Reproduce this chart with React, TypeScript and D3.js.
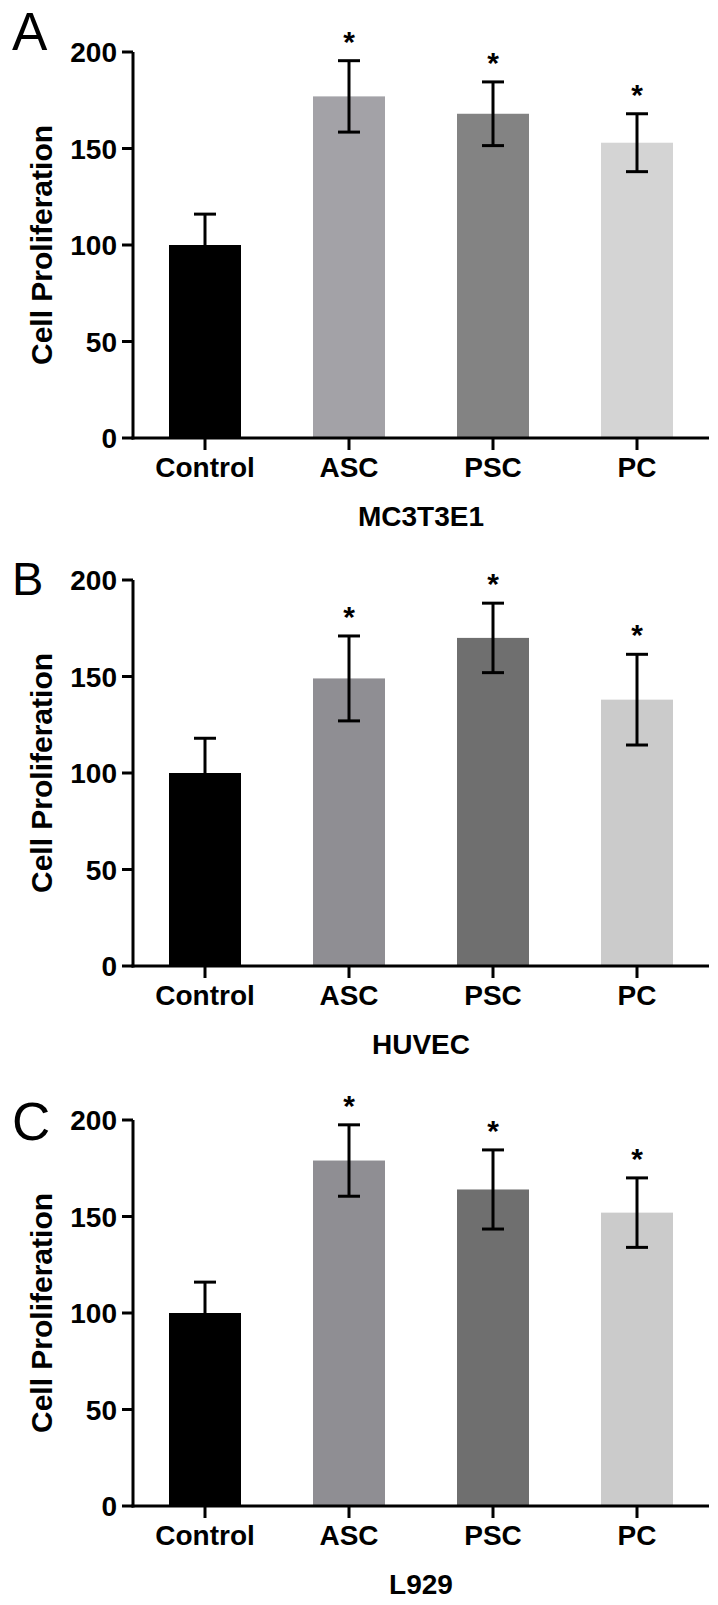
import React from "react";
import * as d3 from "d3";

const categories = ["Control", "ASC", "PSC", "PC"];
const yTicks = [0, 50, 100, 150, 200];

const panelLetters = ["A", "B", "C"];
const panelTitles = ["MC3T3E1", "HUVEC", "L929"];

const meansA = [100, 177, 168, 153];
const errA = [16, 18.5, 16.5, 15];
const meansB = [100, 149, 170, 138];
const errB = [18, 22, 18, 23.5];
const meansC = [100, 179, 164, 152];
const errC = [16, 18.5, 20.5, 18];

const starsA = [false, true, true, true];
const starsB = [false, true, true, true];
const starsC = [false, true, true, true];

const colorsA = ["#000000", "#a3a2a7", "#838383", "#d4d4d4"];
const colorsB = ["#000000", "#8f8e93", "#6f6f6f", "#cbcbcb"];
const colorsC = ["#000000", "#8f8e93", "#6f6f6f", "#cbcbcb"];

const panelMeans = [meansA, meansB, meansC];
const panelErrs = [errA, errB, errC];
const panelStars = [starsA, starsB, starsC];
const panelColors = [colorsA, colorsB, colorsC];

// layout
const panelTop = [52, 580, 1120]; // y of 200 tick
const plotH = 386;
const x0 = 133;
const x1 = 709;
const letterSize = [53, 47, 53];
const letterBaseline = [50, 595, 1140];
const FONT = "'Liberation Sans', Arial, Helvetica, sans-serif";

function Panel({ idx }: { idx: number }) {
  const top = panelTop[idx];
  const bottom = top + plotH;
  const y = d3.scaleLinear().domain([0, 200]).range([bottom, top]);
  const x = d3
    .scaleBand<string>()
    .domain(categories)
    .range([x0, x1])
    .paddingInner(0.5)
    .paddingOuter(0.25);
  const means = panelMeans[idx];
  const errs = panelErrs[idx];
  const stars = panelStars[idx];
  const colors = panelColors[idx];
  const bw = x.bandwidth();
  const capHalf = 11;

  return (
    <g>
      {/* panel letter */}
      <text
        x={12}
        y={letterBaseline[idx]}
        fontFamily={FONT}
        fontSize={letterSize[idx]}
        fill="#000"
      >
        {panelLetters[idx]}
      </text>

      {/* bars */}
      {categories.map((c, i) => (
        <rect
          key={"b" + c}
          x={x(c)!}
          y={y(means[i])}
          width={bw}
          height={bottom - y(means[i])}
          fill={colors[i]}
        />
      ))}

      {/* error bars */}
      {categories.map((c, i) => {
        const cx = x(c)! + bw / 2;
        const yt = y(means[i] + errs[i]);
        const yb = y(means[i] - errs[i]);
        return (
          <g key={"e" + c} stroke="#000" strokeWidth={3} fill="none">
            <line x1={cx} x2={cx} y1={yt} y2={yb} />
            <line x1={cx - capHalf} x2={cx + capHalf} y1={yt} y2={yt} />
            <line x1={cx - capHalf} x2={cx + capHalf} y1={yb} y2={yb} />
          </g>
        );
      })}

      {/* stars */}
      {categories.map((c, i) =>
        stars[i] ? (
          <text
            key={"s" + c}
            x={x(c)! + bw / 2}
            y={y(means[i] + errs[i]) - 9}
            textAnchor="middle"
            fontFamily={FONT}
            fontSize={30}
            fontWeight="bold"
            fill="#000"
          >
            *
          </text>
        ) : null
      )}

      {/* y axis */}
      <line x1={x0} x2={x0} y1={top} y2={bottom + 1.5} stroke="#000" strokeWidth={3} />
      {yTicks.map((t) => (
        <g key={"yt" + t}>
          <line x1={x0 - 11} x2={x0} y1={y(t)} y2={y(t)} stroke="#000" strokeWidth={3} />
          <text
            x={x0 - 16}
            y={y(t)}
            dy="0.36em"
            textAnchor="end"
            fontFamily={FONT}
            fontSize={28}
            fontWeight="bold"
            fill="#000"
          >
            {t}
          </text>
        </g>
      ))}

      {/* x axis */}
      <line x1={x0 - 1.5} x2={x1} y1={bottom} y2={bottom} stroke="#000" strokeWidth={3} />
      {categories.map((c) => {
        const cx = x(c)! + bw / 2;
        return (
          <g key={"xt" + c}>
            <line x1={cx} x2={cx} y1={bottom} y2={bottom + 12} stroke="#000" strokeWidth={3} />
            <text
              x={cx}
              y={bottom + 39}
              textAnchor="middle"
              fontFamily={FONT}
              fontSize={28}
              fontWeight="bold"
              fill="#000"
            >
              {c}
            </text>
          </g>
        );
      })}

      {/* title below */}
      <text
        x={(x0 + x1) / 2}
        y={bottom + 88}
        textAnchor="middle"
        fontFamily={FONT}
        fontSize={28}
        fontWeight="bold"
        fill="#000"
      >
        {panelTitles[idx]}
      </text>

      {/* y label */}
      <text
        transform={`translate(52, ${(top + bottom) / 2}) rotate(-90)`}
        textAnchor="middle"
        fontFamily={FONT}
        fontSize={30}
        fontWeight="bold"
        fill="#000"
      >
        Cell Proliferation
      </text>
    </g>
  );
}

export default function App() {
  return (
    <svg
      width={718}
      height={1605}
      viewBox="0 0 718 1605"
      style={{ position: "absolute", left: 0, top: 0, display: "block", background: "#fff" }}
    >
      <rect x={0} y={0} width={718} height={1605} fill="#fff" />
      {[0, 1, 2].map((i) => (
        <Panel key={i} idx={i} />
      ))}
    </svg>
  );
}
